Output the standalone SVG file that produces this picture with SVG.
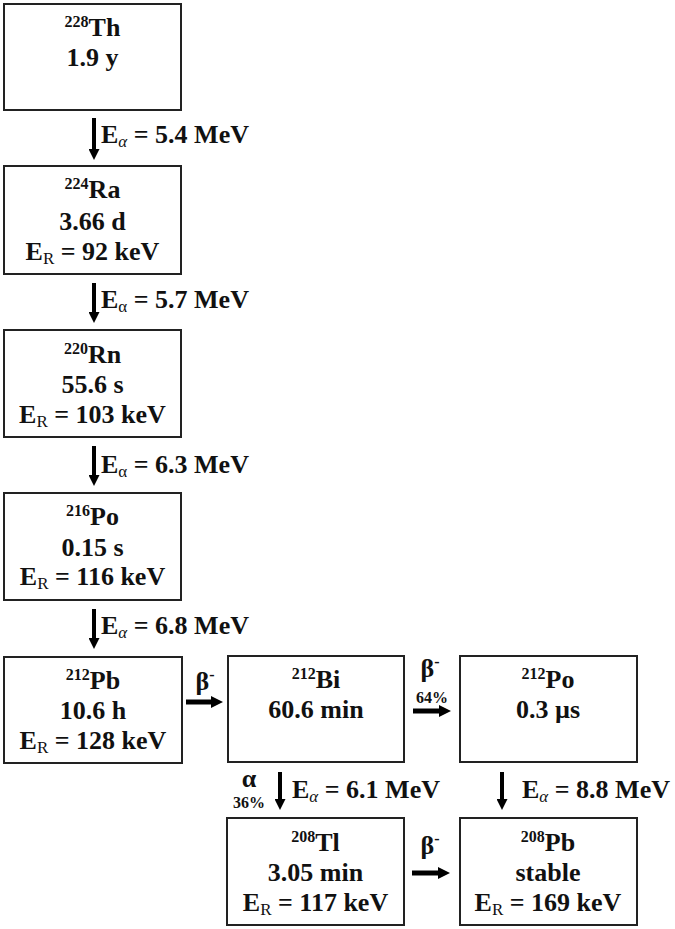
<svg xmlns="http://www.w3.org/2000/svg" width="675" height="929" viewBox="0 0 675 929">
<defs>
<style>
text{font-family:"Liberation Serif",Tinos,"DejaVu Serif",serif;font-weight:bold;font-size:26px;fill:#111}
.c{text-anchor:middle}
.box{fill:#fff;stroke:#222;stroke-width:2}
.sup{font-size:16px}
.sub{font-size:17px;font-weight:normal}
.pct{font-size:16px}
.ar{stroke:#000;fill:none}
</style>
<marker id="hd" viewBox="0 0 10 10" refX="0" refY="5" markerUnits="userSpaceOnUse" markerWidth="11" markerHeight="11" orient="auto">
<path d="M0,0 L10,5 L0,10 Z" fill="#000"/>
</marker>
<marker id="hh" viewBox="0 0 10 10" refX="0" refY="5" markerUnits="userSpaceOnUse" markerWidth="12" markerHeight="13" orient="auto">
<path d="M0,0 L10,5 L0,10 Z" fill="#000"/>
</marker>
</defs>
<rect width="675" height="929" fill="#fff"/>

<g id="th228">
<rect class="box" x="4" y="4" width="177" height="106"/>
<text class="c" x="92.5" y="36"><tspan class="sup" dy="-9">228</tspan><tspan dy="9">Th</tspan></text>
<text class="c" x="92.5" y="66">1.9 y</text>
</g>

<g id="ra224">
<rect class="box" x="4" y="166" width="177" height="108"/>
<text class="c" x="92.5" y="198"><tspan class="sup" dy="-9">224</tspan><tspan dy="9">Ra</tspan></text>
<text class="c" x="92.5" y="230">3.66 d</text>
<text class="c" x="92.5" y="260">E<tspan class="sub" dy="4">R</tspan><tspan dy="-4"> = 92 keV</tspan></text>
</g>

<g id="rn220">
<rect class="box" x="4" y="330" width="177" height="107"/>
<text class="c" x="92.5" y="363"><tspan class="sup" dy="-9">220</tspan><tspan dy="9">Rn</tspan></text>
<text class="c" x="92.5" y="393">55.6 s</text>
<text class="c" x="92.5" y="423">E<tspan class="sub" dy="4">R</tspan><tspan dy="-4"> = 103 keV</tspan></text>
</g>

<g id="po216">
<rect class="box" x="4" y="493" width="177" height="107"/>
<text class="c" x="92.5" y="525"><tspan class="sup" dy="-9">216</tspan><tspan dy="9">Po</tspan></text>
<text class="c" x="92.5" y="556">0.15 s</text>
<text class="c" x="92.5" y="585">E<tspan class="sub" dy="4">R</tspan><tspan dy="-4"> = 116 keV</tspan></text>
</g>

<g id="pb212">
<rect class="box" x="4" y="657" width="178" height="106"/>
<text class="c" x="93" y="689"><tspan class="sup" dy="-9">212</tspan><tspan dy="9">Pb</tspan></text>
<text class="c" x="93" y="719">10.6 h</text>
<text class="c" x="93" y="749">E<tspan class="sub" dy="4">R</tspan><tspan dy="-4"> = 128 keV</tspan></text>
</g>

<g id="bi212">
<rect class="box" x="228" y="656" width="176" height="106"/>
<text class="c" x="316" y="688"><tspan class="sup" dy="-9">212</tspan><tspan dy="9">Bi</tspan></text>
<text class="c" x="316" y="718">60.6 min</text>
</g>

<g id="po212">
<rect class="box" x="460" y="656" width="177" height="106"/>
<text class="c" x="548" y="688"><tspan class="sup" dy="-9">212</tspan><tspan dy="9">Po</tspan></text>
<text class="c" x="548" y="718">0.3 µs</text>
</g>

<g id="tl208">
<rect class="box" x="227" y="818" width="177" height="107"/>
<text class="c" x="315.5" y="851"><tspan class="sup" dy="-9">208</tspan><tspan dy="9">Tl</tspan></text>
<text class="c" x="315.5" y="881">3.05 min</text>
<text class="c" x="315.5" y="911">E<tspan class="sub" dy="4">R</tspan><tspan dy="-4"> = 117 keV</tspan></text>
</g>

<g id="pb208">
<rect class="box" x="460" y="818" width="177" height="107"/>
<text class="c" x="548" y="851"><tspan class="sup" dy="-9">208</tspan><tspan dy="9">Pb</tspan></text>
<text class="c" x="548" y="881">stable</text>
<text class="c" x="548" y="911">E<tspan class="sub" dy="4">R</tspan><tspan dy="-4"> = 169 keV</tspan></text>
</g>

<g id="connectors">
<line class="ar" x1="94" y1="118" x2="94" y2="149" stroke-width="4" marker-end="url(#hd)"/>
<line class="ar" x1="94" y1="283" x2="94" y2="312" stroke-width="4" marker-end="url(#hd)"/>
<line class="ar" x1="94" y1="446" x2="94" y2="475" stroke-width="4" marker-end="url(#hd)"/>
<line class="ar" x1="94" y1="609" x2="94" y2="638" stroke-width="4" marker-end="url(#hd)"/>
<line class="ar" x1="186" y1="702" x2="211" y2="702" stroke-width="5" marker-end="url(#hh)"/>
<line class="ar" x1="413" y1="711" x2="439" y2="711" stroke-width="5" marker-end="url(#hh)"/>
<line class="ar" x1="412" y1="873" x2="438" y2="873" stroke-width="5" marker-end="url(#hh)"/>
<line class="ar" x1="280" y1="772" x2="280" y2="799" stroke-width="4" marker-end="url(#hd)"/>
<line class="ar" x1="502" y1="772" x2="502" y2="799" stroke-width="4" marker-end="url(#hd)"/>

<text x="101" y="143">E<tspan class="sub" font-style="italic" dy="4">α</tspan><tspan dy="-4"> = 5.4 MeV</tspan></text>
<text x="101" y="308">E<tspan class="sub" dy="4">α</tspan><tspan dy="-4"> = 5.7 MeV</tspan></text>
<text x="101" y="473">E<tspan class="sub" dy="4">α</tspan><tspan dy="-4"> = 6.3 MeV</tspan></text>
<text x="101" y="634">E<tspan class="sub" font-style="italic" dy="4">α</tspan><tspan dy="-4"> = 6.8 MeV</tspan></text>
<text x="292" y="798">E<tspan class="sub" font-style="italic" dy="4">α</tspan><tspan dy="-4"> = 6.1 MeV</tspan></text>
<text x="522" y="798">E<tspan class="sub" font-style="italic" dy="4">α</tspan><tspan dy="-4"> = 8.8 MeV</tspan></text>

<text class="c" x="205" y="690" font-weight="normal">β<tspan class="sup" dy="-10">-</tspan></text>
<text class="c" x="430" y="677" font-weight="normal">β<tspan class="sup" dy="-10">-</tspan></text>
<text class="c pct" x="432" y="703">64%</text>
<text class="c" x="430" y="854" font-weight="normal">β<tspan class="sup" dy="-10">-</tspan></text>
<text class="c" x="249" y="787">α</text>
<text class="c pct" x="249" y="808">36%</text>
</g>
</svg>
